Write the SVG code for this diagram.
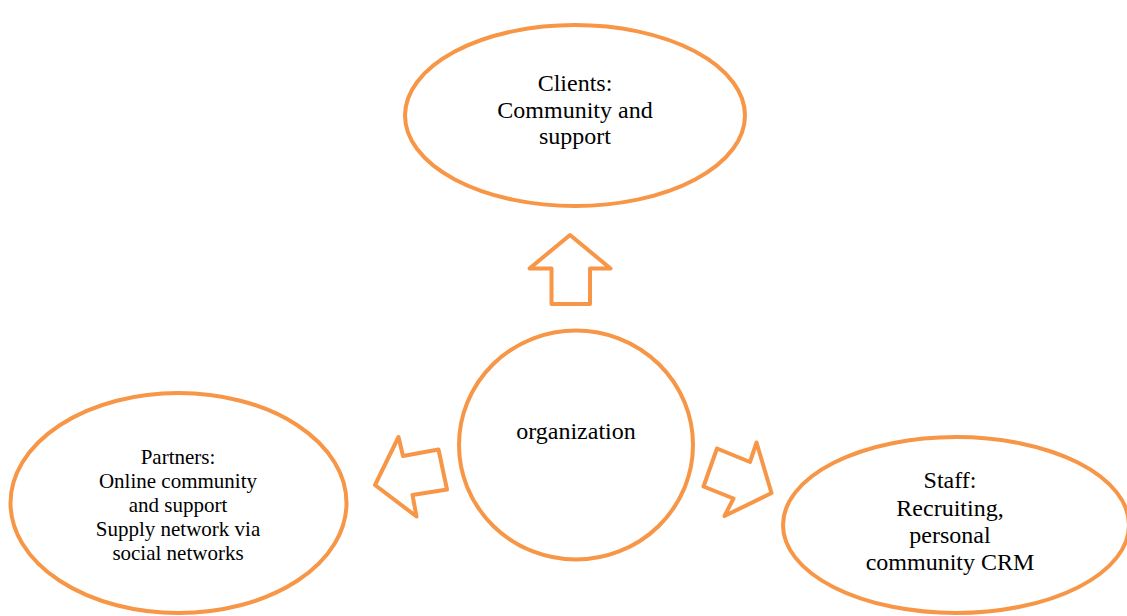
<svg xmlns="http://www.w3.org/2000/svg" width="1127" height="616" viewBox="0 0 1127 616">
  <style>
    .shape { fill: #ffffff; stroke: #F79646; stroke-width: 4; }
    .arrow { fill: #ffffff; stroke: #F79646; stroke-width: 4; stroke-linejoin: round; }
    .label { font-family: "Liberation Serif", "Times New Roman", serif; fill: #000000; text-anchor: middle; }
    .big { font-size: 24px; }
    .small { font-size: 21px; }
  </style>
  <rect width="1127" height="616" fill="#ffffff"/>

  <!-- block arrows from the organization outwards -->
  <g id="connectors">
    <polygon class="arrow" points="570,235 610.5,268.5 590,268.5 590,304 551.5,304 551.5,268.5 529.5,268.5"/>
    <polygon class="arrow" points="375,485 398.5,437 403,456 438.5,449.5 447,489.5 412.5,495 416.5,516.5"/>
    <polygon class="arrow" points="771.5,493 724.5,516 733.5,498.5 703.5,486.5 717,448.5 750,462 756.5,442.5"/>
  </g>

  <g id="clients">
    <ellipse class="shape" cx="575" cy="115.5" rx="170" ry="90.5"/>
    <text class="label big" x="575" y="91">Clients:</text>
    <text class="label big" x="575" y="117.5">Community and</text>
    <text class="label big" x="575" y="144">support</text>
  </g>

  <g id="organization">
    <ellipse class="shape" cx="576" cy="445" rx="117" ry="114.5"/>
    <text class="label big" x="576" y="439">organization</text>
  </g>

  <g id="partners">
    <ellipse class="shape" cx="178.5" cy="503" rx="168" ry="110"/>
    <text class="label small" x="178" y="464">Partners:</text>
    <text class="label small" x="178" y="488">Online community</text>
    <text class="label small" x="178" y="512">and support</text>
    <text class="label small" x="178" y="536">Supply network via</text>
    <text class="label small" x="178" y="560">social networks</text>
  </g>

  <g id="staff">
    <ellipse class="shape" cx="956" cy="525" rx="173" ry="88"/>
    <text class="label big" x="950" y="488">Staff:</text>
    <text class="label big" x="950" y="515.5">Recruiting,</text>
    <text class="label big" x="950" y="543">personal</text>
    <text class="label big" x="950" y="570">community CRM</text>
  </g>
</svg>
